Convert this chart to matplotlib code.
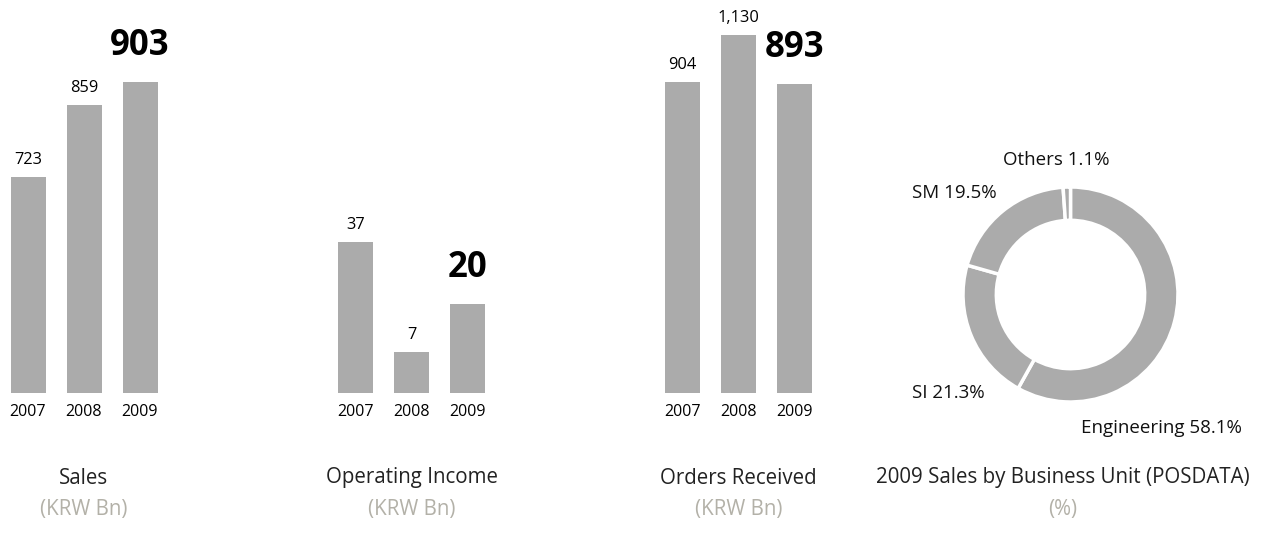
import numpy as np
import matplotlib
matplotlib.use("Agg")
import matplotlib.pyplot as plt

plt.rcParams['font.family'] = ['Open Sans', 'DejaVu Sans']

years = ['2007', '2008', '2009']
sales = [723, 859, 903]
op_income = [37, 7, 20]
orders = [904, 1130, 893]

unit_names = ['Engineering', 'SI', 'SM', 'Others']
unit_share = [58.1, 21.3, 19.5, 1.1]

bar_color = '#ababab'
sub_color = '#b3b1a8'

W, H = 1269, 539
fig = plt.figure(figsize=(W / 100, H / 100), dpi=100)


def px_axes(x0, y_top, w, h):
    # pixel box (top-left origin) -> figure fractions
    return fig.add_axes([x0 / W, (H - y_top - h) / H, w / W, h / H])


def bar_panel(x0, values, ylim, title):
    ax = px_axes(x0, 0, 168, 393)
    x = np.arange(len(values))
    base = ylim[0]
    # bars rise from the bottom of the (truncated) value axis
    ax.bar(x, np.array(values) - base, bottom=base, width=0.625, color=bar_color)
    ax.set_xlim(-0.5, 2.5)
    ax.set_ylim(*ylim)
    ax.set_xticks(x, years, fontsize=11.5)
    ax.tick_params(axis='x', length=0, pad=8)
    ax.set_yticks([])
    for s in ax.spines.values():
        s.set_visible(False)
    for i, v in enumerate(values):
        last = i == len(values) - 1
        ax.annotate(f'{v:,}', (i, v), xytext=(0, 27 if last else 13),
                    textcoords='offset pixels', ha='center', va='baseline',
                    fontsize=25 if last else 11.8,
                    fontweight='bold' if last else 'normal')
    cx = (x0 + 84) / W
    fig.text(cx, (H - 478) / H, title, ha='center', va='center',
             fontsize=14.8, color='#222222')
    fig.text(cx, (H - 509) / H, '(KRW Bn)', ha='center', va='center',
             fontsize=14.8, color=sub_color)


bar_panel(0, sales, (314, 1058), 'Sales')
bar_panel(327.5, op_income, (-4.3, 103.4), 'Operating Income')
bar_panel(654.5, orders, (-593, 1296), 'Orders Received')

# donut of 2009 sales by unit
ax = px_axes(963, 187, 215, 215)
ax.pie(unit_share, startangle=90, counterclock=False, radius=1,
       colors=[bar_color] * len(unit_share),
       wedgeprops=dict(width=0.31, edgecolor='white', linewidth=2.5))
ax.set_xlim(-1, 1)
ax.set_ylim(-1, 1)
ax.set_aspect('equal')
ax.axis('off')

label_pos = {'Engineering': (1161.5, 428), 'SI': (948.5, 393),
             'SM': (954.5, 193), 'Others': (1056, 160)}
for name, share in zip(unit_names, unit_share):
    lx, ly = label_pos[name]
    fig.text(lx / W, (H - ly) / H, f'{name} {share}%', ha='center',
             va='center', fontsize=13.5, color='#111111')

fig.text(1063 / W, (H - 478) / H, '2009 Sales by Business Unit (POSDATA)',
         ha='center', va='center', fontsize=14.8, color='#222222')
fig.text(1063 / W, (H - 509) / H, '(%)', ha='center', va='center',
         fontsize=14.8, color=sub_color)

fig.savefig('out.png', dpi=100)
